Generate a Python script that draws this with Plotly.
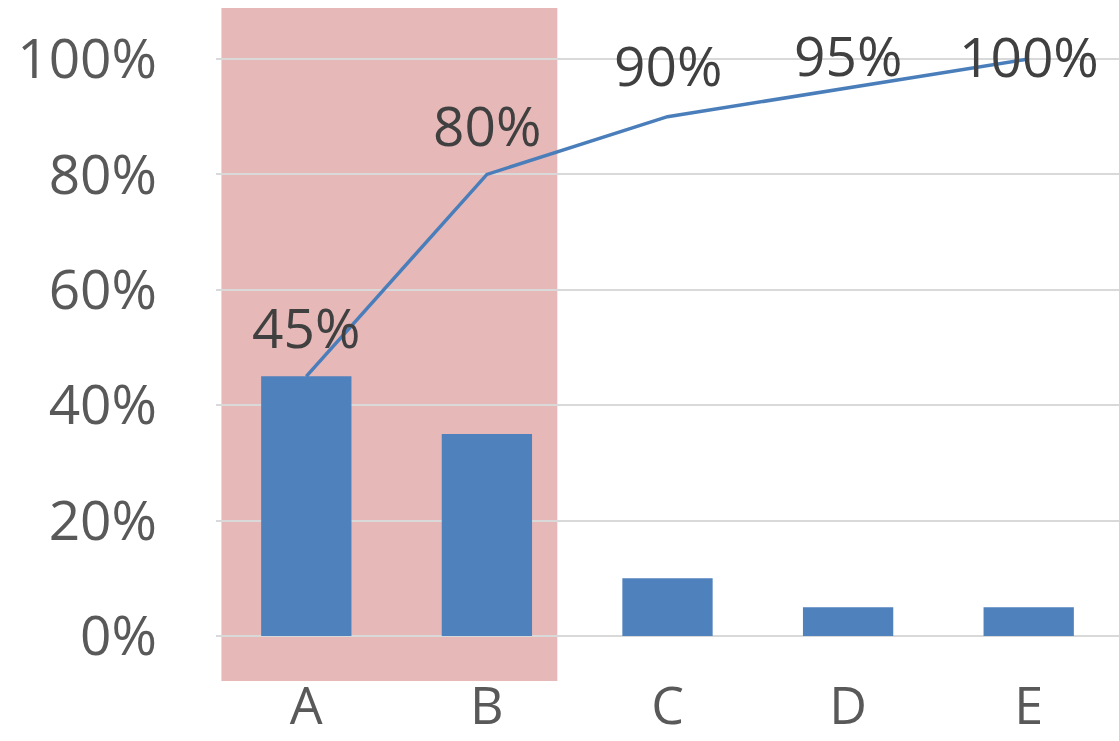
import plotly.graph_objects as go

# Pareto data: share of each category and its running total (in %)
categories = ["A", "B", "C", "D", "E"]
shares = [45, 35, 10, 5, 5]
cumulative = [45, 80, 90, 95, 100]
label_shift = [50, 50, 52, 33, 4]  # vertical offset of each cumulative label (px)
y_ticks = [0, 20, 40, 60, 80, 100]

FONT = "Open Sans"
fig = go.Figure()

fig.add_trace(go.Bar(
    x=categories, y=shares, width=0.5,
    marker=dict(color="#4f81bd", line=dict(width=0)),
    showlegend=False, hoverinfo="skip",
))

fig.add_trace(go.Scatter(
    x=categories, y=cumulative, mode="lines",
    line=dict(color="#4a7ebb", width=3.5),
    showlegend=False, hoverinfo="skip",
))

for cat, val, dy in zip(categories, cumulative, label_shift):
    fig.add_annotation(
        x=cat, y=val, text=f"{val}%", showarrow=False,
        yshift=dy, font=dict(family=FONT, size=55, color="#404040"),
    )

# highlighted "vital few" region behind A and B
fig.add_shape(
    type="rect", xref="x", yref="paper",
    x0=-0.47, x1=1.39, y0=-0.015, y1=1,
    fillcolor="#e6b8b7", line=dict(width=0), layer="below",
)

fig.update_layout(
    width=1119, height=741,
    margin=dict(l=216, r=0, t=8, b=70),
    paper_bgcolor="white", plot_bgcolor="white",
    font=dict(family=FONT, color="#595959"),
    bargap=0.5,
    xaxis=dict(
        range=[-0.5, 4.5], showgrid=False, zeroline=False, showline=False,
        tickfont=dict(family=FONT, size=52, color="#595959"),
        ticklabelstandoff=0, automargin=False,
    ),
    yaxis=dict(
        range=[-6.07, 108.84], tickvals=y_ticks,
        ticktext=[f"{t}%" for t in y_ticks],
        showgrid=True, gridcolor="#d9d9d9", gridwidth=1.5,
        zeroline=False, showline=False,
        tickfont=dict(family=FONT, size=55, color="#595959"),
        ticklabelstandoff=58, automargin=False,
    ),
)

fig.write_html("out.html")
